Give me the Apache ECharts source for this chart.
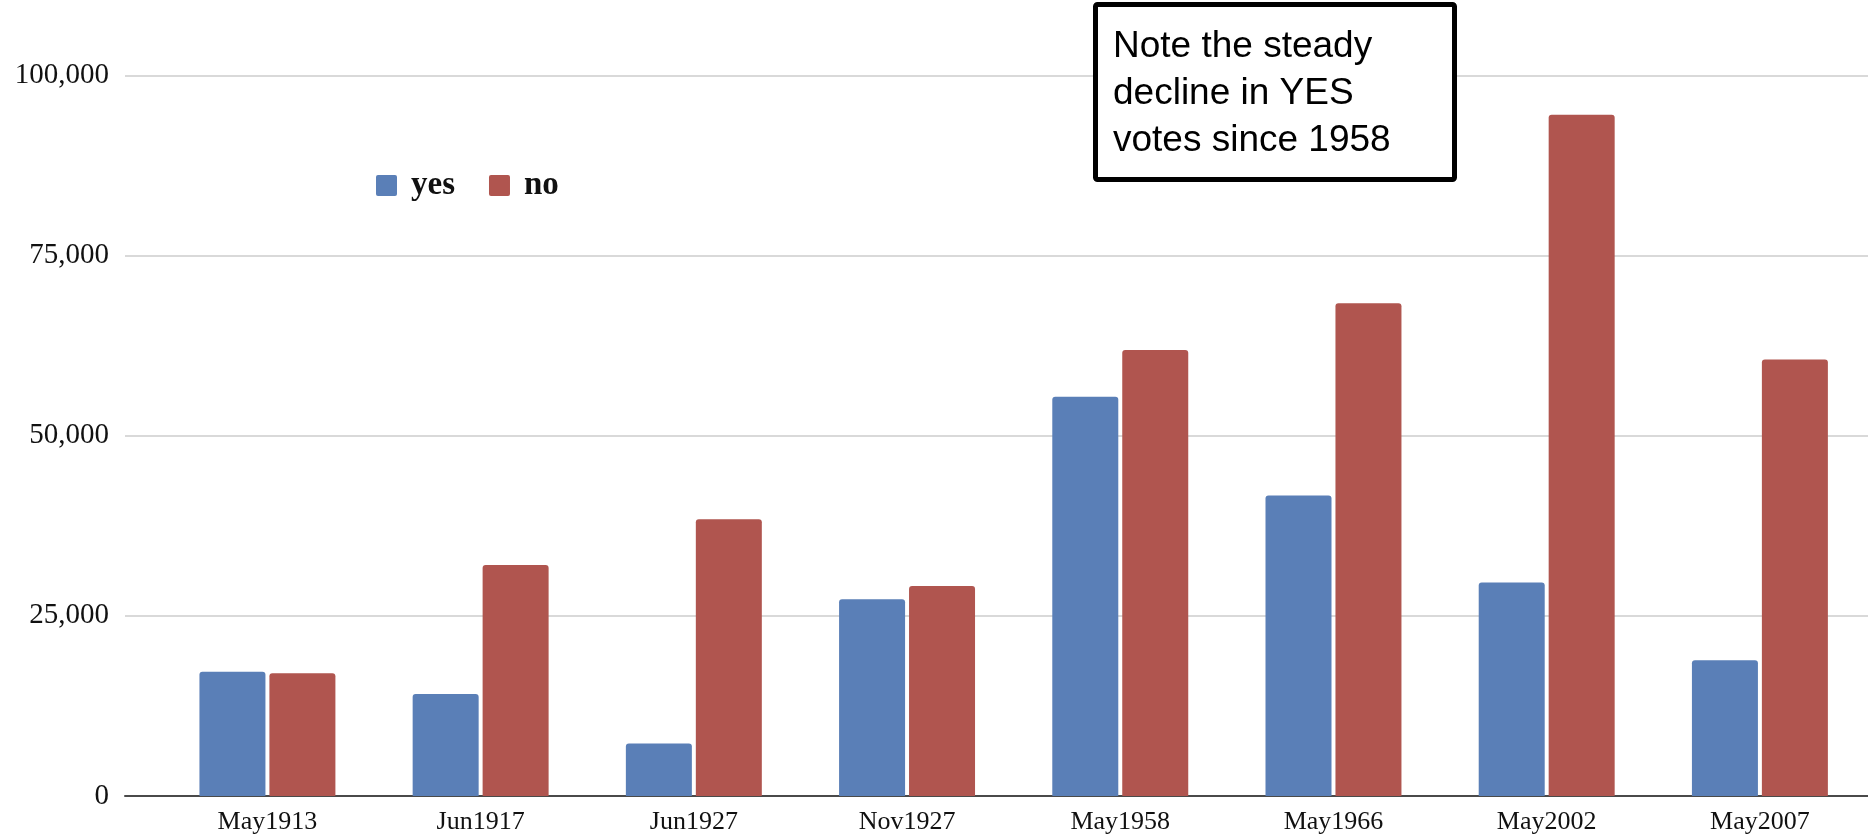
<!DOCTYPE html>
<html>
<head>
<meta charset="utf-8">
<script src="https://cdn.jsdelivr.net/npm/echarts@6/dist/echarts.min.js"></script>
<style>
  html, body { margin: 0; padding: 0; background: #ffffff; }
  #chart { width: 1868px; height: 839px; }
</style>
</head>
<body>
<div id="chart"></div>
<script>
const categories = ['May1913', 'Jun1917', 'Jun1927', 'Nov1927', 'May1958', 'May1966', 'May2002', 'May2007'];
const yesVotes = [17250, 14160, 7290, 27320, 55430, 41720, 29640, 18850];
const noVotes = [17030, 32070, 38410, 29140, 61910, 68380, 94540, 60600];
const yTicks = [0, 25000, 50000, 75000, 100000];
const noteLines = ['Note the steady', 'decline in YES', 'votes since 1958'];

const chart = echarts.init(document.getElementById('chart'), null, { renderer: 'canvas' });

const serif = '"Liberation Serif", "Times New Roman", serif';
const sans = '"Liberation Sans", Arial, sans-serif';

const option = {
  animation: false,
  backgroundColor: '#ffffff',
  grid: { left: 125, right: 0, top: 75.5, bottom: 43, containLabel: false },
  legend: {
    left: 371, top: 164,
    itemWidth: 21, itemHeight: 21, itemGap: 34,
    icon: 'path://M2,0 L19,0 Q21,0 21,2 L21,19 Q21,21 19,21 L2,21 Q0,21 0,19 L0,2 Q0,0 2,0 Z',
    data: ['yes', 'no'],
    textStyle: { fontFamily: serif, fontWeight: 'bold', fontSize: 33, color: '#111', padding: [0, 0, 0, 9] }
  },
  xAxis: {
    type: 'value',
    min: -0.668, max: 7.507,
    splitLine: { show: false },
    axisTick: { show: false },
    axisLine: { show: true, lineStyle: { color: '#4a4a4a', width: 2 } },
    axisLabel: {
      customValues: categories.map((c, i) => i),
      formatter: v => categories[Math.round(v)] || '',
      fontFamily: serif, fontSize: 26, color: '#111', margin: 13
    }
  },
  yAxis: {
    type: 'value',
    min: 0, max: yTicks[yTicks.length - 1], interval: yTicks[1] - yTicks[0],
    axisLine: { show: false },
    axisTick: { show: false },
    splitLine: { show: true, lineStyle: { color: '#d9d9d9', width: 2 } },
    axisLabel: {
      formatter: v => v.toLocaleString('en-US'),
      fontFamily: serif, fontSize: 29, color: '#111', margin: 16
    }
  },
  series: [
    {
      name: 'yes', type: 'bar',
      barWidth: 66, barGap: '6%',
      itemStyle: { color: '#5a7fb7', borderRadius: [3, 3, 0, 0] },
      data: yesVotes.map((v, i) => [i, v])
    },
    {
      name: 'no', type: 'bar',
      barWidth: 66, barGap: '6%',
      itemStyle: { color: '#b0554f', borderRadius: [3, 3, 0, 0] },
      data: noVotes.map((v, i) => [i, v])
    }
  ],
  graphic: [
    {
      type: 'rect',
      shape: { x: 1095.5, y: 4.5, width: 359, height: 175, r: 2 },
      style: { fill: '#ffffff', stroke: '#000000', lineWidth: 5 },
      z: 100
    },
    {
      type: 'text',
      x: 1113, y: 23,
      style: {
        text: noteLines.join('\n'),
        font: '37px ' + sans,
        lineHeight: 47,
        fill: '#000000',
        textVerticalAlign: 'top'
      },
      z: 101
    }
  ]
};

chart.setOption(option);
</script>
</body>
</html>
